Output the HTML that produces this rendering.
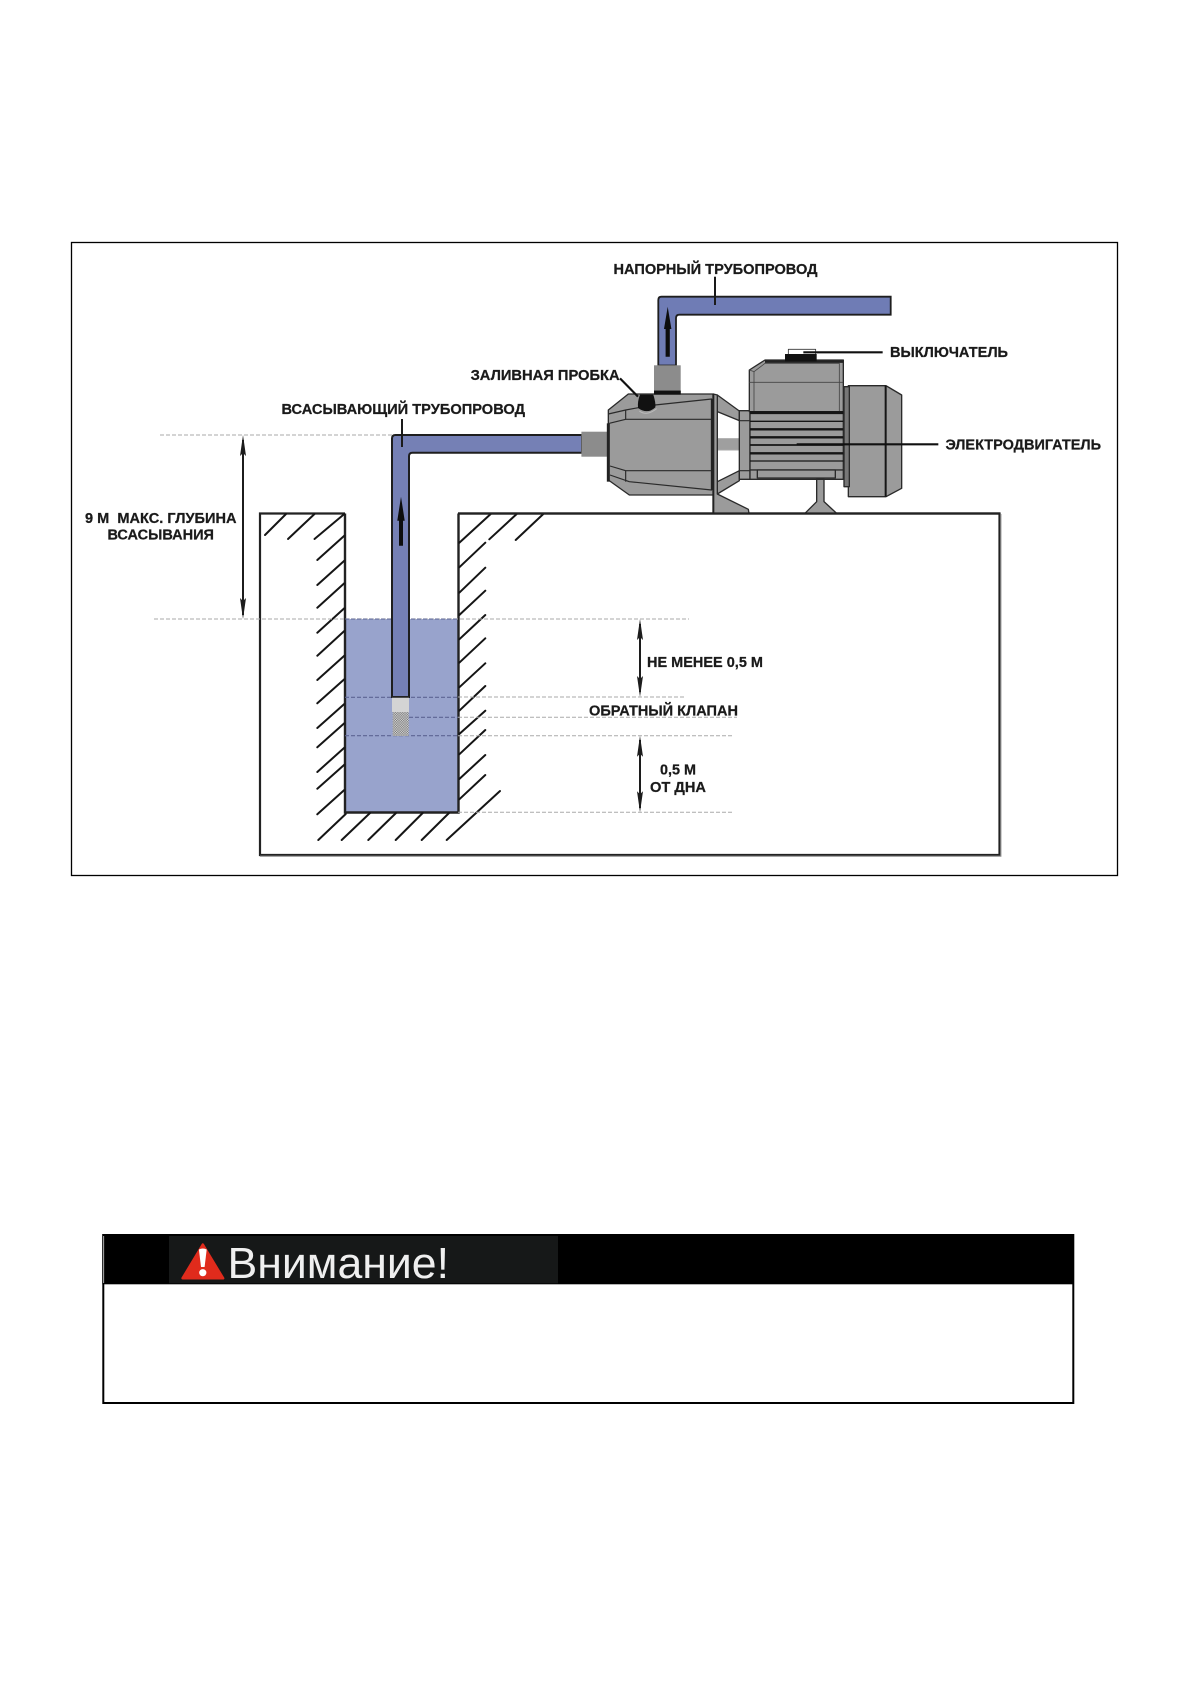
<!DOCTYPE html>
<html lang="ru">
<head>
<meta charset="utf-8">
<title>Схема</title>
<style>
html,body{margin:0;padding:0;background:#fff;width:1191px;height:1684px;overflow:hidden}
svg{display:block;position:absolute;left:0;top:0}
text{font-family:"Liberation Sans",sans-serif}
.l{font-weight:bold;font-size:14.5px;fill:#1a1a1a;stroke:#1a1a1a;stroke-width:.25px}
.soft{filter:blur(.35px)}
</style>
</head>
<body>
<svg width="1191" height="1684" viewBox="0 0 1191 1684" xmlns="http://www.w3.org/2000/svg">
<rect width="1191" height="1684" fill="#fff"/>
<!-- frame -->
<rect x="71.5" y="242.5" width="1046" height="633" fill="#fff" stroke="#000" stroke-width="1.3"/>

<g class="soft">
<!-- ground box -->
<path d="M345,513.5 H260 V855 H999.5 V513.5 H458" fill="none" stroke="#222" stroke-width="2.2"/>
<path d="M1000.8,514 V856.2 H260" fill="none" stroke="#888" stroke-width="1.2"/>
<!-- water -->
<rect x="345" y="619" width="113.5" height="193" fill="#98a3cc"/>
<path d="M345,513.5 V812.5 H458.5 V513.5" fill="none" stroke="#222" stroke-width="2.4"/>

<!-- hatches -->
<g stroke="#151515" stroke-width="2" stroke-linecap="round" fill="none">
<path d="M265,535 L286,514 M288,539 L314.5,514 M314.5,539 L344.3,514"/>
<path d="M317.3,560 L344.3,535.7 M317.3,585 L344.3,560.7 M317.3,607.7 L344.3,583.3 M317.3,632.7 L344.3,608.3 M317.3,655.7 L344.3,631 M317.3,680 L344.3,655.7 M317.3,703.3 L344.3,679.3 M317.3,728 L344.3,704 M317.3,747.3 L344.3,723.3 M317.3,772 L344.3,747.7 M317.3,788.7 L344.3,764.7 M317.3,814.3 L344.3,790"/>
<path d="M318.3,840 L345.7,814 M341.7,840 L370,813 M368.3,840 L396,813 M395.7,840 L422.7,813 M421.7,840 L449,813 M446.7,840 L500,791"/>
<path d="M459.3,542.7 L490.7,514 M489.3,539.3 L516.7,514 M515.7,540 L543.3,514"/>
<path d="M459.3,567.3 L485.3,542.7 M459.3,592.7 L485.3,567.7 M459.3,615 L485.3,590.7 M459.3,639.3 L485.3,615 M459.3,662.7 L485.3,638.3 M459.3,687.3 L485.3,663.3 M459.3,710.7 L485.3,686 M459.3,734 L485.3,710.7 M459.3,754.3 L485.3,730 M459.3,779 L485.3,755 M459.3,799.3 L485.3,775"/>
</g>

<!-- dashed guides -->
<g stroke="#aaa" stroke-width="1" stroke-dasharray="4 2" fill="none">
<path d="M160,435 H392"/>
<path d="M154,619 H689"/>
<path d="M458,697 H686"/>
<path d="M458,717.3 H737"/>
<path d="M458,735.7 H734"/>
<path d="M458,812.3 H734"/>
</g>
<g stroke="#5d6592" stroke-width="1.1" stroke-dasharray="4 2" fill="none">
<path d="M345,619 H458"/>
<path d="M345,697.3 H458"/>
<path d="M409,717.3 H458"/>
<path d="M345,735.7 H458"/>
</g>

<!-- suction pipe -->
<path d="M392,697 V438.5 Q392,435 395.5,435 H582 V452.7 H412.5 Q409,452.7 409,456 V697 Z" fill="#7580b5" stroke="#1e1e1e" stroke-width="2"/>
<rect x="392" y="697" width="17" height="15" fill="#d4d4d4"/>
<path d="M392,697 H409" stroke="#222" stroke-width="1.5"/>
<defs>
<pattern id="m" width="2.4" height="2.4" patternUnits="userSpaceOnUse">
<rect width="2.4" height="2.4" fill="#d8d8d8"/>
<rect width="1.2" height="1.2" fill="#777"/>
<rect x="1.2" y="1.2" width="1.2" height="1.2" fill="#777"/>
</pattern>
</defs>
<rect x="392.7" y="712" width="16" height="24" fill="url(#m)"/>
<path d="M401,496.7 L404.7,520.7 H403 V545.7 H399 V520.7 H397.3 Z" fill="#0d0d0d"/>
<path d="M402,419 V447" stroke="#1a1a1a" stroke-width="2"/>

<!-- pressure pipe -->
<path d="M658.3,365.5 V300 Q658.3,296.7 661.5,296.7 H890.7 V314.7 H679.5 Q676,314.7 676,318 V365.5 Z" fill="#6f7cb5" stroke="#1e1e1e" stroke-width="1.8"/>
<path d="M667.7,306.7 L671.4,329 H669.8 V356.7 H665.6 V329 H664 Z" fill="#0d0d0d"/>
<path d="M715,276.7 V305" stroke="#1a1a1a" stroke-width="2"/>
<rect x="654" y="365.3" width="26.7" height="26" fill="#8c8c8c"/>
<rect x="654" y="390.7" width="26.7" height="4.2" fill="#111"/>
<rect x="581.4" y="431.7" width="26" height="25" fill="#8c8c8c"/>

<!-- pump + motor drawn in zoomed coords -->
<g transform="translate(600,350) scale(.33333)" stroke-linejoin="round">
<g fill="#9b9b9b" stroke="#2a2a2a" stroke-width="4">
<polygon points="352,135 418,183 418,212 352,185"/>
<polygon points="352,432 418,392 418,362 352,395"/>
<rect x="352" y="266" width="66" height="34" fill="#9f9f9f" stroke="#aaa" stroke-width="3"/>
<polygon points="25,180 85,132 340,132 340,435 88,435 25,390"/>
<polygon points="340,132 352,135 352,432 445,478 447,490 340,490"/>
<rect x="418" y="182" width="32" height="206"/>
<polygon points="448,60 495,30 730,30 730,185 448,185"/>
<rect x="450" y="185" width="280" height="175"/>
<rect x="450" y="360" width="280" height="28"/>
<rect x="472" y="360" width="234" height="24"/>
<polygon points="745,107 858,107 905,135 905,415 858,440 745,440"/>
<rect x="732" y="110" width="16" height="300" fill="#777"/>
<polygon points="650,388 672,388 672,455 710,490 615,490 650,455"/>
</g>
<g fill="none" stroke="#2a2a2a" stroke-width="3.5">
<path d="M25,192 L77,180 L115,173"/>
<path d="M77,180 V208 H335"/>
<path d="M28,220 L77,208"/>
<path d="M165,165 L335,147 V420 L88,395 L30,375"/>
<path d="M30,348 L77,362 H335"/>
<path d="M77,362 V395"/>
<path d="M418,212 H450 M418,362 H450"/>
</g>
<g fill="none" stroke="#444" stroke-width="2.5">
<path d="M448,60 L462,65 L495,40 H718 V185"/>
<path d="M462,65 V185"/>
<path d="M448,97 H730"/>
</g>
<path d="M495,35 H730" stroke="#222" stroke-width="7" fill="none"/>
<path d="M25,220 V395" stroke="#222" stroke-width="9" fill="none"/>
<path d="M340,132 V490" stroke="#222" stroke-width="6" fill="none"/>
<path d="M335,147 V420" stroke="#222" stroke-width="5" fill="none"/>
<path d="M118,183 Q140,200 170,176" stroke="#bbb" stroke-width="3" fill="none"/>
<path d="M120,134 H160 Q168,160 166,172 Q142,194 114,174 Q112,155 120,134 Z" fill="#111"/>
<rect x="162" y="122" width="80" height="12" fill="#111"/>
<g stroke="#161616" fill="none">
<path d="M450,188 H730" stroke-width="9"/>
<path d="M450,214 H730" stroke-width="4"/>
<path d="M450,238 H730" stroke-width="7"/>
<path d="M450,262 H730" stroke-width="7"/>
<path d="M450,285 H730" stroke-width="5"/>
<path d="M450,310 H730" stroke-width="7"/>
<path d="M450,333 H730" stroke-width="4"/>
<path d="M857,107 V440" stroke-width="6"/>
</g>
<rect x="555" y="12" width="95" height="22" fill="#111"/>
<path d="M565,12 V-2 H647 V12" fill="#fff" stroke="#333" stroke-width="2.5"/>
<path d="M610,7 H848" stroke="#111" stroke-width="6.5"/>
<path d="M590,283 H1015" stroke="#111" stroke-width="6.5"/>
<path d="M60,85 L114,140" stroke="#111" stroke-width="6.5"/>
</g>

<!-- floor segment redraw -->
<path d="M458,513.5 H1000" stroke="#222" stroke-width="2.2"/>

<!-- dimension arrows -->
<g fill="#1c1c1c" stroke="none">
<rect x="242" y="440" width="2" height="175"/>
<polygon points="243,435 246,456 243,453 240,456"/>
<polygon points="243,619 246,598 243,601 240,598"/>
<rect x="639" y="624" width="2" height="68"/>
<polygon points="640,619 643,640 640,637 637,640"/>
<polygon points="640,697 643,676 640,679 637,676"/>
<rect x="639" y="740" width="2" height="68"/>
<polygon points="640,735.7 643,756.7 640,753.7 637,756.7"/>
<polygon points="640,812.3 643,791.3 640,794.3 637,791.3"/>
</g>

<!-- labels -->
<text class="l" x="613.5" y="274" textLength="204" lengthAdjust="spacingAndGlyphs">НАПОРНЫЙ ТРУБОПРОВОД</text>
<text class="l" x="470.6" y="380" textLength="149" lengthAdjust="spacingAndGlyphs">ЗАЛИВНАЯ ПРОБКА</text>
<text class="l" x="281.5" y="414" textLength="243.5" lengthAdjust="spacingAndGlyphs">ВСАСЫВАЮЩИЙ ТРУБОПРОВОД</text>
<text class="l" x="890" y="357" textLength="118" lengthAdjust="spacingAndGlyphs">ВЫКЛЮЧАТЕЛЬ</text>
<text class="l" x="945.5" y="449.5" textLength="155.5" lengthAdjust="spacingAndGlyphs">ЭЛЕКТРОДВИГАТЕЛЬ</text>
<text class="l" x="85" y="523" textLength="151.5" lengthAdjust="spacingAndGlyphs" xml:space="preserve">9 М  МАКС. ГЛУБИНА</text>
<text class="l" x="107.5" y="539.5" textLength="106.5" lengthAdjust="spacingAndGlyphs">ВСАСЫВАНИЯ</text>
<text class="l" x="647" y="667" textLength="116" lengthAdjust="spacingAndGlyphs">НЕ МЕНЕЕ 0,5 М</text>
<text class="l" x="589" y="715.3" textLength="149" lengthAdjust="spacingAndGlyphs">ОБРАТНЫЙ КЛАПАН</text>
<text class="l" x="660" y="774.6" textLength="36" lengthAdjust="spacingAndGlyphs">0,5 М</text>
<text class="l" x="650" y="792" textLength="56" lengthAdjust="spacingAndGlyphs">ОТ ДНА</text>
</g>

<!-- warning box -->
<rect x="103.3" y="1235" width="970" height="168" fill="#fff" stroke="#000" stroke-width="2"/>
<rect x="102.3" y="1234" width="971.7" height="50.3" fill="#000"/>
<rect x="103.3" y="1236" width=".8" height="47" fill="#ddd"/>
<rect x="169" y="1236" width="389" height="47.3" fill="#161818"/>
<path d="M202.8,1244.5 L223.2,1278.3 H182.5 Z" fill="#e02b1c" stroke="#e02b1c" stroke-width="2.4" stroke-linejoin="round"/>
<path d="M198.9,1249.5 Q202.8,1247.5 206.7,1249.5 L204.6,1267 H201 Z" fill="#fff"/>
<circle cx="202.8" cy="1272.7" r="3.6" fill="#fff"/>
<text x="227.5" y="1278" font-size="44" fill="#efefef" textLength="221.5" lengthAdjust="spacingAndGlyphs">Внимание!</text>
</svg>
</body>
</html>
